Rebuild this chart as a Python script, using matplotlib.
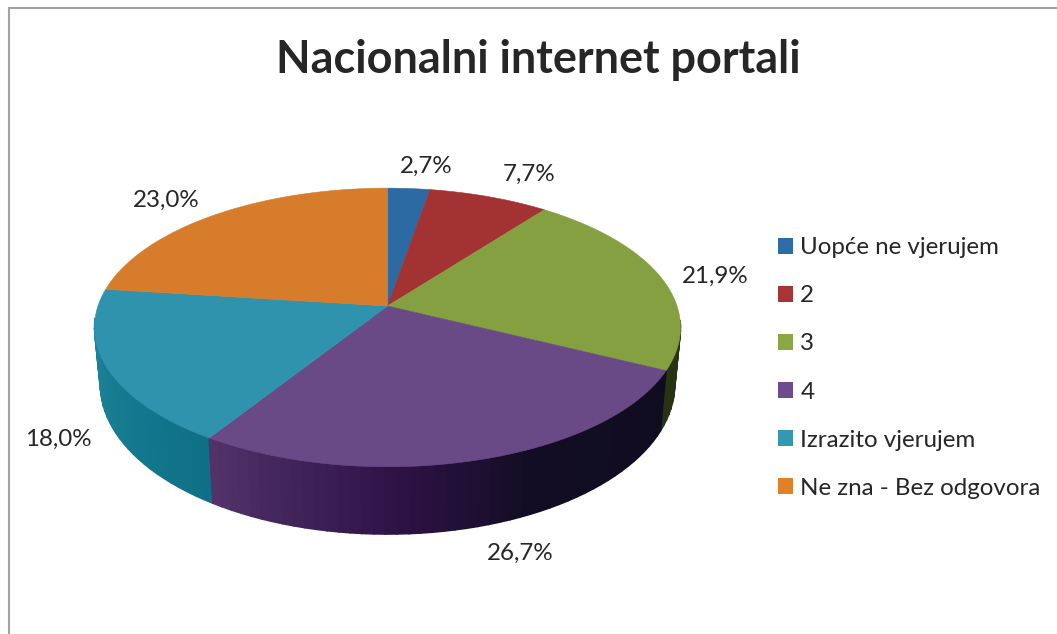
import numpy as np
import matplotlib
matplotlib.use("Agg")
import matplotlib.pyplot as plt
from matplotlib.patches import Polygon, Patch
from matplotlib.colors import to_rgb

categories = ["Uopće ne vjerujem", "2", "3", "4", "Izrazito vjerujem", "Ne zna - Bez odgovora"]
values = [2.7, 7.7, 21.9, 26.7, 18.0, 23.0]
value_labels = ["2,7%", "7,7%", "21,9%", "26,7%", "18,0%", "23,0%"]
title = "Nacionalni internet portali"

top_colors = ["#2C6AA4", "#A33333", "#84A040", "#6A4A86", "#2F93AE", "#D67C2B"]
legend_colors = ["#2E6CA8", "#A83535", "#8AA844", "#6D4C8E", "#3398B2", "#E08028"]
# wall shading: (angle in degrees clockwise from the back, colour)
wall_stops = [
    [(0, "#1B3A5A"), (10, "#1B3A5A")],
    [(10, "#5A1C1C"), (38, "#5A1C1C")],
    [(38, "#283316"), (116.3, "#283316")],
    [(116.3, "#100C20"), (155, "#120D24"), (178, "#2E1246"), (212.4, "#52336A")],
    [(212.4, "#0F6F87"), (240, "#157C90"), (277.2, "#2A8AA5")],
    [(277.2, "#7A4415"), (360, "#7A4415")],
]
label_pos = [(426, 166), (529, 174), (715, 276), (520, 553), (58, 439), (166, 200)]

CX, CY = 387.5, 306.0
RX, RY, K = 289.5, 136.0, 0.154


def project_top(theta):
    s, c = np.sin(theta), np.cos(theta)
    d = 1 + K * c
    return CX + RX * s / d, CY - RY * c / d


def project_bottom(theta):
    x, y = project_top(theta)
    depth = 55.5 + 10.0 * (y - CY) / RY
    return CX + 0.98 * (x - CX), y + depth


def wall_color(stops, deg):
    a = [p[0] for p in stops]
    cols = np.array([to_rgb(p[1]) for p in stops])
    return tuple(np.interp(deg, a, cols[:, i]) for i in range(3))


fig = plt.figure(figsize=(10.57, 6.34), dpi=100, facecolor="white")
ax = fig.add_axes([0, 0, 1, 1])
ax.set_xlim(0, 1057)
ax.set_ylim(634, 0)
ax.axis("off")

# outer chart frame (only the top and left edges fall inside the picture)
ax.plot([1057, 8.5, 8.5], [8, 8, 634], color="#A2A2A6", lw=1.5, solid_joinstyle="miter", zorder=1)

edges = np.concatenate([[0], np.cumsum(values)]) / np.sum(values) * 2 * np.pi

# side wall, drawn back to front; only the front part can be seen
quads = []
for i in range(len(values)):
    n = max(int(np.degrees(edges[i + 1] - edges[i]) / 2.0), 2)
    th = np.linspace(edges[i], edges[i + 1], n + 1)
    for a, b in zip(th[:-1], th[1:]):
        m = (a + b) / 2
        if np.cos(m) > -0.1:
            continue
        xa, ya = project_top(a)
        xb, yb = project_top(b)
        xc, yc = project_bottom(b)
        xd, yd = project_bottom(a)
        quads.append((-np.cos(m), [(xa, ya), (xb, yb), (xc, yc), (xd, yd)],
                      wall_color(wall_stops[i], np.degrees(m))))
quads.sort(key=lambda q: q[0])
for _, pts, col in quads:
    ax.add_patch(Polygon(pts, closed=True, facecolor=col, edgecolor=col, lw=1.1, zorder=2))

# top face
for i in range(len(values)):
    th = np.linspace(edges[i], edges[i + 1], 200)
    x, y = project_top(th)
    pts = np.column_stack([np.r_[CX, x], np.r_[CY, y]])
    ax.add_patch(Polygon(pts, closed=True, facecolor=top_colors[i], edgecolor=top_colors[i],
                         lw=0.4, zorder=3))

font = ["Lato", "DejaVu Sans"]
for lab, (x, y) in zip(value_labels, label_pos):
    ax.text(x, y, lab, ha="center", va="center", fontsize=17.4, color="#262626", family=font, zorder=5)

ax.text(538, 60, title, ha="center", va="center", fontsize=32.4, fontweight="bold",
        color="#262626", family=font, zorder=5)

handles = [Patch(facecolor=c, edgecolor="none") for c in legend_colors]
ax.legend(handles, categories, loc="center left", bbox_to_anchor=(778 / 1057, 1 - 368 / 634),
          frameon=False, borderaxespad=0, borderpad=0, labelspacing=1.12,
          handlelength=0.62, handleheight=0.62, handletextpad=0.3,
          prop={"family": font, "size": 17.4}, labelcolor="#262626")

fig.savefig("out.png", dpi=100, facecolor="white")
